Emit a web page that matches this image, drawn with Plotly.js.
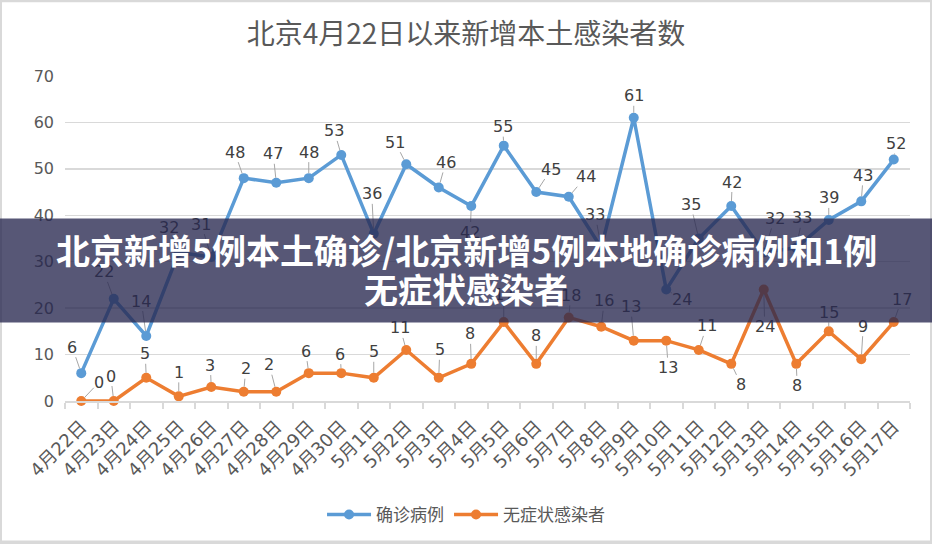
<!DOCTYPE html>
<html>
<head>
<meta charset="utf-8">
<script src="https://cdn.plot.ly/plotly-3.0.1.min.js"></script>
<style>
html,body{margin:0;padding:0;background:#fff;}
#chart{width:932px;height:544px;}
</style>
</head>
<body>
<div id="chart"></div>
<script>
// ---- data ----
const categories = ['4月22日','4月23日','4月24日','4月25日','4月26日','4月27日','4月28日','4月29日','4月30日',
  '5月1日','5月2日','5月3日','5月4日','5月5日','5月6日','5月7日','5月8日','5月9日','5月10日',
  '5月11日','5月12日','5月13日','5月14日','5月15日','5月16日','5月17日'];
const confirmed = [6,22,14,32,31,48,47,48,53,36,51,46,42,55,45,44,33,61,24,35,42,32,33,39,43,52];
const asymptomatic = [0,0,5,1,3,2,2,6,6,5,11,5,8,17,8,18,16,13,13,11,8,24,8,15,9,17];
const seriesNames = ['确诊病例','无症状感染者'];
const chartTitle = '北京4月22日以来新增本土感染者数';
const bannerLines = ['北京新增5例本土确诊/北京新增5例本地确诊病例和1例','无症状感染者'];

// ---- label placement (pixel offsets, style only) ----
const confirmedLabelOffsets = [[-9,-26],[-10,-27],[-5,-35],[-10,-25],[-10,-33],[-9,-26],[-3,-29],[0,-26],[-7,-24],
  [-2,-40],[-11,-22],[7,-25],[-1,26],[-1,-19],[15,-23],[17,-20],[-6,-33],[0,-22],[16,10],
  [-8,-34],[1,-24],[11,-34],[6,-30],[0,-22],[2,-26],[2,-16]];
const asymLabelOffsets = [[18,-19],[-3,-25],[-1,-24],[0,-24],[-1,-22],[2,-23],[-7,-27],[-3,-22],[-1,-19],
  [0,-26],[-6,-22],[1,-28],[-1,-30],[0,-28],[0,-28],[2,-22],[3,-26],[-3,-34],[2,27],
  [8,-24],[10,21],[1,37],[1,22],[0,-19],[2,-33],[8,-23]];

const BLUE = '#5b9bd5', ORANGE = '#ed7d31';

const traces = [
  {x: categories, y: confirmed, name: seriesNames[0], type: 'scatter', mode: 'lines+markers',
   line: {color: BLUE, width: 3.5}, marker: {color: BLUE, size: 10}, cliponaxis: false},
  {x: categories, y: asymptomatic, name: seriesNames[1], type: 'scatter', mode: 'lines+markers',
   line: {color: ORANGE, width: 3.5}, marker: {color: ORANGE, size: 10}, cliponaxis: false}
];

const annotations = [];
function addLabels(values, offsets) {
  values.forEach((v, i) => {
    annotations.push({
      x: categories[i], y: v, xref: 'x', yref: 'y', text: String(v),
      showarrow: true, arrowhead: 0, arrowwidth: 1, arrowcolor: '#a6a6a6',
      ax: offsets[i][0], ay: offsets[i][1], standoff: 5, borderpad: 0,
      font: {family: 'DejaVu Sans, sans-serif', size: 16, color: '#404040'}
    });
  });
}
addLabels(confirmed, confirmedLabelOffsets);
addLabels(asymptomatic, asymLabelOffsets);

// banner overlay (background then text)
annotations.push({
  xref: 'paper', yref: 'paper', x: 0.4746, y: 0.4003, xanchor: 'center', yanchor: 'middle',
  text: ' ', showarrow: false, width: 940, height: 103, bgcolor: 'rgba(40,40,80,0.78)', borderpad: 0
});
annotations.push({
  xref: 'paper', yref: 'paper', x: 0.4746, y: 0.4663, xanchor: 'center', yanchor: 'middle',
  text: '<b>' + bannerLines[0] + '</b>', showarrow: false,
  font: {family: 'Noto Sans CJK SC, sans-serif', size: 34, color: '#ffffff'}
});
annotations.push({
  xref: 'paper', yref: 'paper', x: 0.4746, y: 0.3466, xanchor: 'center', yanchor: 'middle',
  text: '<b>' + bannerLines[1] + '</b>', showarrow: false,
  font: {family: 'Noto Sans CJK SC, sans-serif', size: 34, color: '#ffffff'}
});

const layout = {
  width: 932, height: 544,
  margin: {l: 65, r: 22, t: 76, b: 142},
  paper_bgcolor: '#ffffff', plot_bgcolor: '#ffffff',
  title: {text: chartTitle, x: 0.5, xref: 'container', xanchor: 'center',
          y: 0.9375, yref: 'container', yanchor: 'middle',
          font: {family: 'Noto Sans CJK SC, sans-serif', size: 28, color: '#595959'}},
  xaxis: {type: 'category', range: [-0.5, 25.5], showgrid: false, zeroline: false,
          showline: true, linecolor: '#d9d9d9', linewidth: 2,
          ticks: 'outside', tickson: 'boundaries', ticklen: 6, tickcolor: '#d9d9d9', tickwidth: 2,
          tickangle: -45, ticklabelstandoff: 6, fixedrange: true,
          tickfont: {family: 'DejaVu Sans, Noto Sans CJK SC, sans-serif', size: 18, color: '#595959'}},
  yaxis: {range: [0, 70], dtick: 10, showgrid: true, gridcolor: '#d9d9d9', gridwidth: 1.5,
          zeroline: false, showline: false, ticks: '', ticklabelstandoff: 10, fixedrange: true,
          tickfont: {family: 'DejaVu Sans, sans-serif', size: 16, color: '#595959'}},
  showlegend: true,
  legend: {orientation: 'h', x: 0.4746, xanchor: 'center', y: -0.3466, yanchor: 'middle',
           itemwidth: 44, font: {family: 'Noto Sans CJK SC, sans-serif', size: 17, color: '#595959'},
           bgcolor: 'rgba(0,0,0,0)'},
  shapes: [{type: 'rect', xref: 'paper', yref: 'paper',
            x0: -0.0769, x1: 1.02604, y0: -0.4356, y1: 1.2331,
            line: {color: '#d9d9d9', width: 4}, fillcolor: 'rgba(0,0,0,0)', layer: 'above'}],
  annotations: annotations
};

Plotly.newPlot('chart', traces, layout, {displayModeBar: false, staticPlot: true});
</script>
</body>
</html>
